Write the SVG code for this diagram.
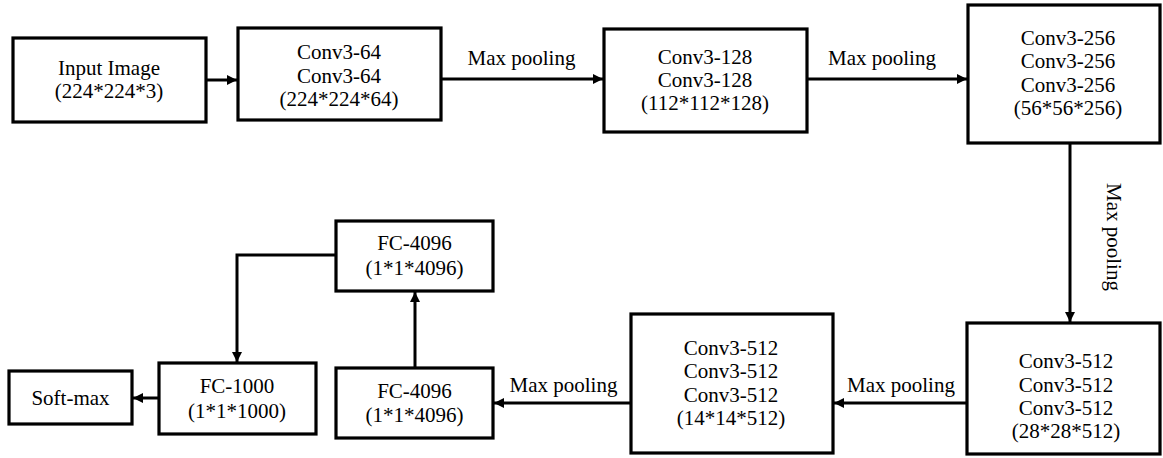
<svg xmlns="http://www.w3.org/2000/svg" width="1163" height="458" viewBox="0 0 1163 458">
<style>
.box{fill:#fff;stroke:#000;stroke-width:3.2}
.t{font-family:"Liberation Serif","Times New Roman",serif;font-size:21px;fill:#000;text-anchor:middle}
.c{fill:none;stroke:#000;stroke-width:3}
</style>
<defs>
<marker id="ah" markerUnits="userSpaceOnUse" markerWidth="11" markerHeight="11" refX="10" refY="5" orient="auto">
<path d="M0,0 L10,5 L0,10 z" fill="#000"/>
</marker>
</defs>
<rect width="1163" height="458" fill="#fff"/>
<g id="connectors">
<path class="c" d="M206,80 H237" marker-end="url(#ah)"/>
<path class="c" d="M441,79 H603" marker-end="url(#ah)"/>
<path class="c" d="M807,79 H967" marker-end="url(#ah)"/>
<path class="c" d="M1070,143 V322" marker-end="url(#ah)"/>
<path class="c" d="M967,403 H834" marker-end="url(#ah)"/>
<path class="c" d="M631,403 H494" marker-end="url(#ah)"/>
<path class="c" d="M415,368 V292" marker-end="url(#ah)"/>
<path class="c" d="M336,255 H237 V362" marker-end="url(#ah)"/>
<path class="c" d="M159,398 H133" marker-end="url(#ah)"/>
<text class="t" x="521.5" y="65">Max pooling</text>
<text class="t" x="882" y="65">Max pooling</text>
<text class="t" transform="translate(1107,237) rotate(90)">Max pooling</text>
<text class="t" x="901" y="392">Max pooling</text>
<text class="t" x="563.5" y="392">Max pooling</text>
</g>
<g id="input">
<rect class="box" x="13" y="38" width="193" height="84"/>
<text class="t" x="109" y="75">Input Image</text>
<text class="t" x="109" y="98">(224*224*3)</text>
</g>
<g id="conv64">
<rect class="box" x="238" y="28" width="203" height="92"/>
<text class="t" x="339" y="59">Conv3-64</text>
<text class="t" x="339" y="83">Conv3-64</text>
<text class="t" x="339" y="106">(224*224*64)</text>
</g>
<g id="conv128">
<rect class="box" x="604" y="29" width="203" height="103"/>
<text class="t" x="705" y="64">Conv3-128</text>
<text class="t" x="705" y="87">Conv3-128</text>
<text class="t" x="705" y="110">(112*112*128)</text>
</g>
<g id="conv256">
<rect class="box" x="968" y="5" width="192" height="138"/>
<text class="t" x="1068" y="45">Conv3-256</text>
<text class="t" x="1068" y="68">Conv3-256</text>
<text class="t" x="1068" y="92">Conv3-256</text>
<text class="t" x="1068" y="115">(56*56*256)</text>
</g>
<g id="conv512a">
<rect class="box" x="967" y="323" width="193" height="131"/>
<text class="t" x="1066" y="368">Conv3-512</text>
<text class="t" x="1066" y="392">Conv3-512</text>
<text class="t" x="1066" y="415">Conv3-512</text>
<text class="t" x="1066" y="438">(28*28*512)</text>
</g>
<g id="conv512b">
<rect class="box" x="631" y="314" width="202" height="139"/>
<text class="t" x="731" y="355">Conv3-512</text>
<text class="t" x="731" y="378">Conv3-512</text>
<text class="t" x="731" y="402">Conv3-512</text>
<text class="t" x="731" y="425">(14*14*512)</text>
</g>
<g id="fc4096a">
<rect class="box" x="336" y="368" width="157" height="70"/>
<text class="t" x="414.5" y="398">FC-4096</text>
<text class="t" x="414.5" y="422">(1*1*4096)</text>
</g>
<g id="fc4096b">
<rect class="box" x="336" y="221" width="157" height="70"/>
<text class="t" x="414.5" y="250">FC-4096</text>
<text class="t" x="414.5" y="275">(1*1*4096)</text>
</g>
<g id="fc1000">
<rect class="box" x="159" y="363" width="157" height="71"/>
<text class="t" x="237" y="393">FC-1000</text>
<text class="t" x="237" y="418">(1*1*1000)</text>
</g>
<g id="softmax">
<rect class="box" x="9" y="371" width="123" height="53"/>
<text class="t" x="70.5" y="405">Soft-max</text>
</g>
</svg>
